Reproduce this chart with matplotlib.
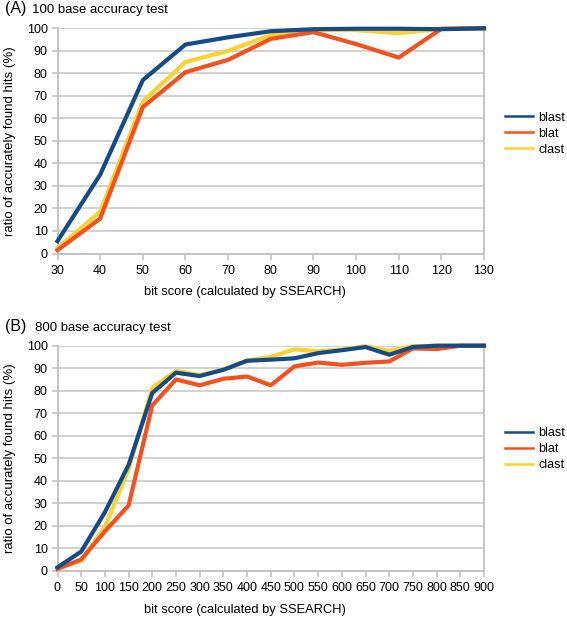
import matplotlib
matplotlib.use("Agg")
import matplotlib.pyplot as plt

plt.rcParams['font.family'] = ['Liberation Sans', 'DejaVu Sans']

# Panel A data
xa = [30, 40, 50, 60, 70, 80, 90, 100, 110, 120, 130]
blast_a = [5.5, 35, 77, 92.8, 96, 98.7, 99.6, 99.8, 99.8, 99.6, 100]
blat_a = [1.5, 15.5, 65, 80.5, 86, 95.3, 98.3, 93, 87, 99.8, 100]
clast_a = [2.5, 18.5, 67.5, 85, 90, 97, 99.2, 99.2, 97.8, 99.8, 100]

# Panel B data
xb = [0, 50, 100, 150, 200, 250, 300, 350, 400, 450, 500, 550, 600, 650, 700, 750, 800, 850, 900]
blast_b = [1.5, 8.5, 26, 47, 79, 88, 86.5, 89.3, 93.3, 93.8, 94.4, 96.7, 98, 99.4, 96, 99.4, 100, 100, 100]
blat_b = [0.8, 5, 17.5, 29, 73.5, 85, 82.4, 85.3, 86.3, 82.4, 90.8, 92.5, 91.5, 92.4, 93, 98.8, 98.5, 100, 100]
clast_b = [1, 4.5, 19.5, 45, 81.3, 88.8, 87, 89.3, 93.5, 95, 98.4, 97.5, 98.3, 99.8, 97.7, 99.8, 100, 100, 100]

series_names = ['blast', 'blat', 'clast']
colors = {'blast': '#154c87', 'blat': '#f4511f', 'clast': '#fad232'}

W, H = 567, 617
fig = plt.figure(figsize=(W / 100, H / 100), dpi=100)


def px_axes(left, right, top, bottom):
    return [left / W, 1 - bottom / H, (right - left) / W, (bottom - top) / H]


def setup(ax, x, data, xticks, xlim, leg_y, xl_y):
    for name in ['clast', 'blat', 'blast']:
        ax.plot(x, data[name], color=colors[name], lw=3.0, label=name,
                zorder={'clast': 2, 'blat': 3, 'blast': 4}[name], clip_on=False)
    ax.set_xlim(*xlim)
    ax.set_ylim(0, 100)
    ax.set_yticks(range(0, 101, 10))
    ax.set_xticks(xticks)
    ax.grid(axis='y', color='#d2d2d2', lw=1.4)
    ax.set_axisbelow(True)
    for s in ['left', 'right', 'bottom']:
        ax.spines[s].set_color('#c4c4c4')
        ax.spines[s].set_linewidth(1.4)
    ax.spines['top'].set_visible(False)
    ax.tick_params(axis='both', colors='#c4c4c4', length=4, width=1.2)
    ax.tick_params(axis='y', labelsize=9, labelcolor='black', pad=3)
    ax.tick_params(axis='x', labelsize=9, labelcolor='black', pad=4)
    ax.set_ylabel('ratio of accurately found hits (%)', fontsize=9.5)
    ax.yaxis.set_label_coords(-0.112, 0.5)
    ax.yaxis.label.set_va('center')
    ax.set_xlabel('bit score (calculated by SSEARCH)', fontsize=9.3)
    ax.xaxis.set_label_coords(0.44, xl_y)
    ax.xaxis.label.set_va('center')
    handles, labels = ax.get_legend_handles_labels()
    order = [labels.index(n) for n in series_names]
    leg = ax.legend([handles[i] for i in order], [labels[i] for i in order],
                    loc='center left', bbox_to_anchor=(1.049, leg_y), frameon=False,
                    fontsize=9, handlelength=2.25, handletextpad=0.4,
                    labelspacing=0.32, borderpad=0, borderaxespad=0)
    for l in leg.get_lines():
        l.set_linewidth(1.8)


axA = fig.add_axes(px_axes(57.5, 484, 28.3, 253.5))
setup(axA, xa, {'blast': blast_a, 'blat': blat_a, 'clast': clast_a},
      range(30, 131, 10), (30, 130), 0.532, -0.171)
axB = fig.add_axes(px_axes(57.5, 484, 345.7, 570.7))
setup(axB, xb, {'blast': blast_b, 'blat': blat_b, 'clast': clast_b},
      range(0, 901, 50), (0, 900), 0.54, -0.175)

fig.text(5 / W, 1 - 13.5 / H, '(A)', fontsize=11.5, va='baseline', ha='left')
fig.text(32 / W, 1 - 13 / H, '100 base accuracy test', fontsize=9.5, va='baseline', ha='left')
fig.text(5 / W, 1 - 331.5 / H, '(B)', fontsize=11.5, va='baseline', ha='left')
fig.text(35 / W, 1 - 331 / H, '800 base accuracy test', fontsize=9.5, va='baseline', ha='left')

fig.savefig('out.png', dpi=100)
